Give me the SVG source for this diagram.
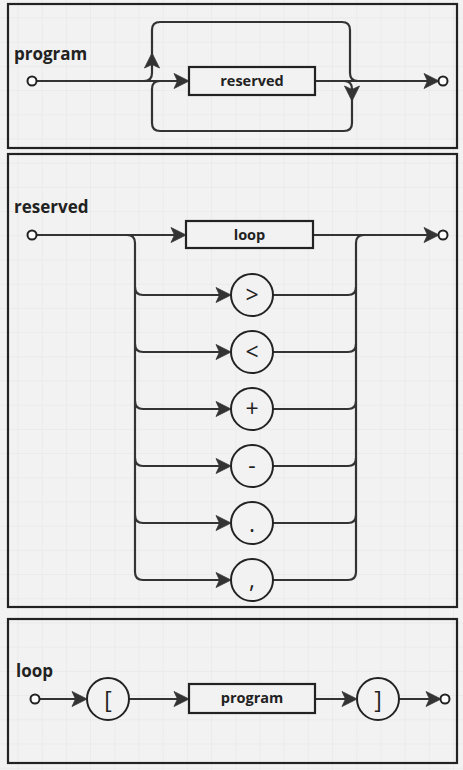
<svg xmlns="http://www.w3.org/2000/svg" width="463" height="770" viewBox="0 0 463 770">
<defs>
<pattern id="grid" x="17.5" y="17.5" width="24.2" height="24.2" patternUnits="userSpaceOnUse">
<path d="M0,0 L24.2,0 M0,0 L0,24.2" fill="none" stroke="#e4e4e4" stroke-width="1"/>
</pattern>
<path id="ah" d="M-15,-7.5 L0,0 L-15,7.5 L-11.5,0 z"/>
<style>
.panel{fill:none;stroke:#222;stroke-width:2.2}
.ln{fill:none;stroke:#333;stroke-width:2.2}
.ah{fill:#333;stroke:#333;stroke-width:0.8;stroke-linejoin:round}
.box{fill:#f2f2f2;stroke:#222;stroke-width:2.2}
.term{fill:#f2f2f2;stroke:#222;stroke-width:2}
.pt{fill:#fff;stroke:#222;stroke-width:2}
.lbl{font-family:"Open Sans","Noto Sans",sans-serif;font-weight:bold;font-size:17px;fill:#222}
.bt{font-family:"Open Sans","Noto Sans",sans-serif;font-weight:bold;font-size:14.5px;fill:#222;text-anchor:middle}
.ct{font-family:"Open Sans","Noto Sans",sans-serif;font-size:23px;fill:#222;text-anchor:middle}
</style>
</defs>
<rect x="0" y="0" width="463" height="770" fill="#f2f2f2"/>
<rect x="0" y="0" width="463" height="770" fill="url(#grid)"/>

<g id="panel-program">
<rect class="panel" x="8" y="4" width="449" height="144"/>
<text class="lbl" x="14" y="60">program</text>
</g>
<g id="panel-reserved">
<rect class="panel" x="8" y="154" width="449" height="453"/>
<text class="lbl" x="14" y="213">reserved</text>
</g>
<g id="panel-loop">
<rect class="panel" x="8" y="619" width="449" height="144"/>
<text class="lbl" x="16" y="677">loop</text>
</g>

<g id="connectors">
<!-- program -->
<path class="ln" d="M36,81 L186,81"/>
<path class="ln" d="M315,81 L436,81"/>
<path class="ln" d="M144,81 Q152,81 152,73 L152,30 Q152,22 160,22 L342,22 Q350,22 350,30 L350,73 Q350,81 358,81"/>
<path class="ln" d="M344,81 Q352,81 352,89 L352,123 Q352,131 344,131 L160,131 Q152,131 152,123 L152,89 Q152,81 160,81"/>
<!-- reserved -->
<path class="ln" d="M36,235 L183,235"/>
<path class="ln" d="M313,235 L436,235"/>
<path class="ln" d="M127,235 Q135,235 135,243 L135,572 Q135,580 143,580 L228,580"/>
<path class="ln" d="M135,287 Q135,295 143,295 L228,295"/>
<path class="ln" d="M135,344 Q135,352 143,352 L228,352"/>
<path class="ln" d="M135,401 Q135,409 143,409 L228,409"/>
<path class="ln" d="M135,458 Q135,466 143,466 L228,466"/>
<path class="ln" d="M135,515 Q135,523 143,523 L228,523"/>
<path class="ln" d="M273,580 L348,580 Q356,580 356,572 L356,243 Q356,235 364,235"/>
<path class="ln" d="M273,295 L348,295 Q356,295 356,287"/>
<path class="ln" d="M273,352 L348,352 Q356,352 356,344"/>
<path class="ln" d="M273,409 L348,409 Q356,409 356,401"/>
<path class="ln" d="M273,466 L348,466 Q356,466 356,458"/>
<path class="ln" d="M273,523 L348,523 Q356,523 356,515"/>
<!-- loop -->
<path class="ln" d="M39,699 L84,699"/>
<path class="ln" d="M129,699 L186,699"/>
<path class="ln" d="M315,699 L354,699"/>
<path class="ln" d="M399,699 L438,699"/>
<!-- arrowheads -->
<use href="#ah" class="ah" transform="translate(189,81)"/>
<use href="#ah" class="ah" transform="translate(439,81)"/>
<use href="#ah" class="ah" transform="translate(152,53) rotate(-90)"/>
<use href="#ah" class="ah" transform="translate(352,101) rotate(90)"/>
<use href="#ah" class="ah" transform="translate(186,235)"/>
<use href="#ah" class="ah" transform="translate(439,235)"/>
<use href="#ah" class="ah" transform="translate(231,295)"/>
<use href="#ah" class="ah" transform="translate(231,352)"/>
<use href="#ah" class="ah" transform="translate(231,409)"/>
<use href="#ah" class="ah" transform="translate(231,466)"/>
<use href="#ah" class="ah" transform="translate(231,523)"/>
<use href="#ah" class="ah" transform="translate(231,580)"/>
<use href="#ah" class="ah" transform="translate(87,699)"/>
<use href="#ah" class="ah" transform="translate(189,699)"/>
<use href="#ah" class="ah" transform="translate(357,699)"/>
<use href="#ah" class="ah" transform="translate(441,699)"/>
</g>

<g id="program-start"><circle class="pt" cx="32" cy="81" r="4.5"/></g>
<g id="program-end"><circle class="pt" cx="443" cy="81" r="4.5"/></g>
<g id="program-reserved"><rect class="box" x="189" y="67" width="126" height="28"/><text class="bt" x="252" y="86">reserved</text></g>

<g id="reserved-start"><circle class="pt" cx="32" cy="235" r="4.5"/></g>
<g id="reserved-end"><circle class="pt" cx="443" cy="235" r="4.5"/></g>
<g id="reserved-loop"><rect class="box" x="186" y="221" width="127" height="27"/><text class="bt" x="249.5" y="240">loop</text></g>
<g id="t-gt"><circle class="term" cx="252" cy="295" r="21"/><text class="ct" x="252" y="303">&gt;</text></g>
<g id="t-lt"><circle class="term" cx="252" cy="352" r="21"/><text class="ct" x="252" y="360">&lt;</text></g>
<g id="t-plus"><circle class="term" cx="252" cy="409" r="21"/><text class="ct" x="252" y="417">+</text></g>
<g id="t-minus"><circle class="term" cx="252" cy="466" r="21"/><text class="ct" x="252" y="474">-</text></g>
<g id="t-dot"><circle class="term" cx="252" cy="523" r="21"/><text class="ct" x="252" y="532">.</text></g>
<g id="t-comma"><circle class="term" cx="252" cy="580" r="21"/><text class="ct" x="252" y="588">,</text></g>

<g id="loop-start"><circle class="pt" cx="35" cy="699" r="4.5"/></g>
<g id="loop-end"><circle class="pt" cx="445" cy="699" r="4.5"/></g>
<g id="t-lbr"><circle class="term" cx="108" cy="699" r="21"/><text class="ct" x="108" y="708" font-size="27">[</text></g>
<g id="loop-program"><rect class="box" x="189" y="684" width="126" height="29"/><text class="bt" x="252" y="703">program</text></g>
<g id="t-rbr"><circle class="term" cx="378" cy="699" r="21"/><text class="ct" x="378" y="708" font-size="27">]</text></g>
</svg>
